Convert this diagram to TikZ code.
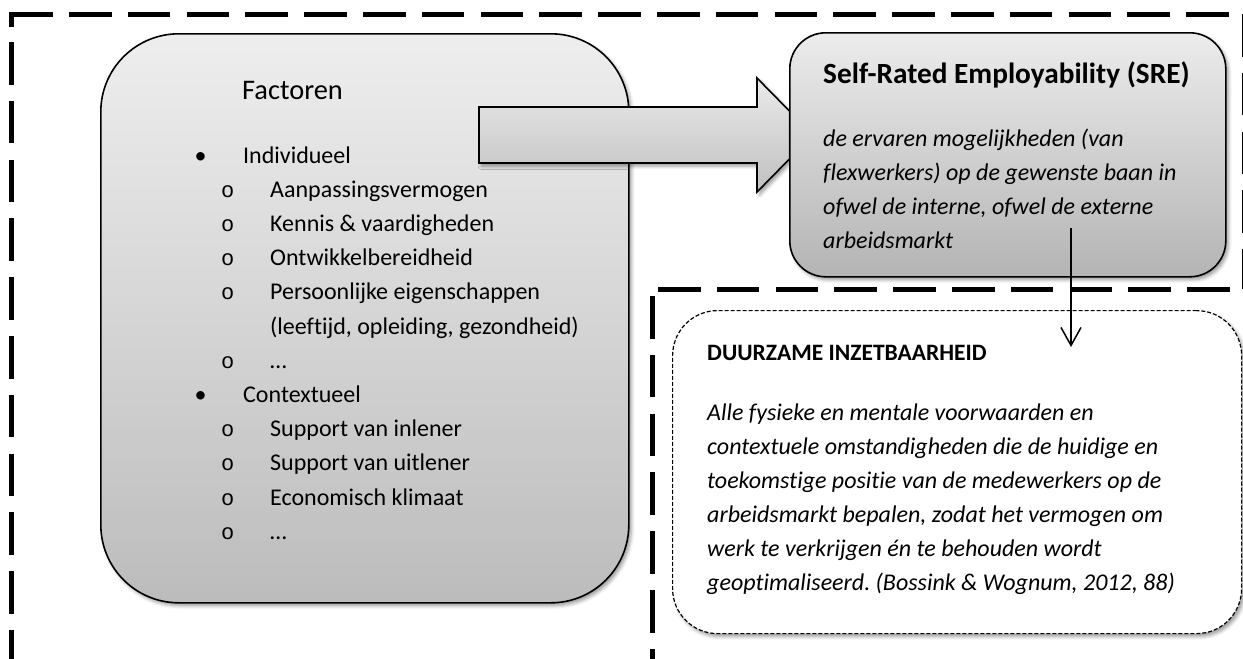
\documentclass[tikz,border=0pt]{standalone}
\usepackage{fontspec}
\setmainfont{Carlito}[Ligatures={TeX,NoCommon}]
\newfontfamily\bulletmono{Liberation Mono}
\usetikzlibrary{shadows.blur,arrows.meta}
\frenchspacing

\definecolor{boxtop}{RGB}{238,238,238}
\definecolor{boxbot}{RGB}{188,188,188}
\definecolor{sretop}{RGB}{236,236,236}
\definecolor{srebot}{RGB}{180,180,180}
\definecolor{arrtop}{RGB}{234,234,234}
\definecolor{arrbot}{RGB}{192,192,192}

\newcommand\lone[1]{\makebox[48.5pt][l]{\textbullet}#1}
\newcommand\ltwo[1]{\hspace*{26.3pt}\makebox[49.2pt][l]{{\bulletmono\fontsize{22}{34}\selectfont o}}#1}

\tikzset{
  bigdash/.style={line width=5pt, dash pattern=on 42.5pt off 16.3pt},
  softshadow/.style={blur shadow={shadow xshift=2.5pt, shadow yshift=-3pt, shadow blur radius=3.5pt, shadow opacity=40}},
  facbox/.style={draw=black, line width=1.6pt, top color=boxtop, bottom color=boxbot, softshadow, inner sep=0, anchor=north west},
  srebox/.style={draw=black, line width=1.6pt, top color=sretop, bottom color=srebot, softshadow, inner sep=0, anchor=north west},
  durbox/.style={draw=black, line width=1.2pt, dash pattern=on 4pt off 2pt, fill=white, softshadow, inner sep=0, anchor=north west},
  blockarrow/.style={draw=black, line width=1.6pt, top color=arrtop, bottom color=arrbot, softshadow},
  txt/.style={anchor=base west, inner sep=0},
  bodyfont/.style={font=\fontsize{24}{34.2}\selectfont},
  itfont/.style={font=\itshape\fontsize{24}{34}\selectfont},
  linkarrow/.style={line width=1.5pt, -{Straight Barb[length=18pt,width=20pt,line width=1.5pt]}}
}

\begin{document}
\begin{tikzpicture}[x=1pt,y=-1pt]
\useasboundingbox (0,0) rectangle (1243,659);

% outer dashed frame
\draw[line width=5pt] (11,27) -- (11,14) -- (53,14);
\draw[bigdash] (11,42) -- (11,665);
\draw[bigdash] (69,14) -- (1240,14);
\draw[bigdash] (1244,14) -- (1244,289);

% lower right dashed frame
\draw[bigdash] (658,289) -- (1250,289);
\draw[bigdash] (652,296) -- (652,665);

% Factoren box
\node[facbox, rounded corners=78pt, minimum width=528pt, minimum height=569pt] (fac) at (100,33) {};
\node[txt, font=\fontsize{28.4}{34}\selectfont] (factitle) at (242,99) {Factoren};
\node[txt, bodyfont] (faclist) at (194.5,163) {\begin{tabular}[t]{@{}l@{}}
\lone{Individueel}\\
\ltwo{Aanpassingsvermogen}\\
\ltwo{Kennis \& vaardigheden}\\
\ltwo{Ontwikkelbereidheid}\\
\ltwo{Persoonlijke eigenschappen}\\
\hspace*{75.5pt}(leeftijd, opleiding, gezondheid)\\
\ltwo{\dots}\\
\lone{Contextueel}\\
\ltwo{Support van inlener}\\
\ltwo{Support van uitlener}\\
\ltwo{Economisch klimaat}\\
\ltwo{\dots}
\end{tabular}};

% block arrow
\draw[blockarrow] (479,107) -- (757,107) -- (757,78) -- (813,135) -- (757,192) -- (757,163) -- (479,163) -- cycle;

% SRE box
\node[srebox, rounded corners=36pt, minimum width=436pt, minimum height=244pt] (sre) at (789,32) {};
\node[txt, font=\bfseries\fontsize{29.3}{34}\selectfont] (sretitle) at (823,83) {Self-Rated Employability (SRE)};
\node[txt, itfont] (sretext) at (823,146) {\begin{tabular}[t]{@{}l@{}}
de ervaren mogelijkheden (van\\
flexwerkers) op de gewenste baan in\\
ofwel de interne, ofwel de externe\\
arbeidsmarkt
\end{tabular}};

% Duurzame inzetbaarheid box
\node[durbox, rounded corners=45pt, minimum width=569pt, minimum height=323pt] (dur) at (672,310) {};
\node[txt, font=\bfseries\fontsize{23.5}{34}\selectfont] (durtitle) at (707,360) {DUURZAME INZETBAARHEID};
\node[txt, itfont] (durtext) at (707,420) {\begin{tabular}[t]{@{}l@{}}
Alle fysieke en mentale voorwaarden en\\
contextuele omstandigheden die de huidige en\\
toekomstige positie van de medewerkers op de\\
arbeidsmarkt bepalen, zodat het vermogen om\\
werk te verkrijgen én te behouden wordt\\
geoptimaliseerd. (Bossink \& Wognum, 2012, 88)
\end{tabular}};

% connector
\coordinate (linkstart) at (1071,228);
\coordinate (linkend) at (1071,347);
\draw[linkarrow] (linkstart) -- (linkend);
\end{tikzpicture}
\end{document}
